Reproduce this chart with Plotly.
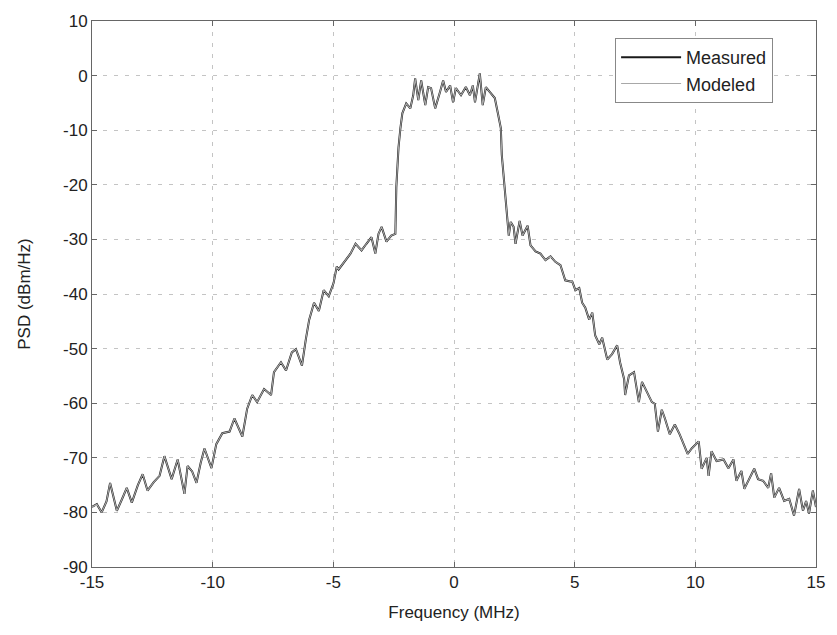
import plotly.graph_objects as go

freq_mhz = [
    -15.0, -14.8, -14.6, -14.4, -14.25, -13.97, -13.75, -13.56, -13.35, -13.1,
    -12.9, -12.7, -12.45, -12.2, -12.0, -11.85, -11.7, -11.45, -11.17, -11.04,
    -10.85, -10.67, -10.5, -10.34, -10.05, -9.85, -9.6, -9.3, -9.1, -8.77,
    -8.57, -8.36, -8.16, -7.87, -7.58, -7.46, -7.17, -6.96, -6.72, -6.55,
    -6.3, -6.14, -6.0, -5.8, -5.6, -5.4, -5.19, -4.99, -4.86, -4.78,
    -4.49, -4.29, -4.08, -3.83, -3.63, -3.42, -3.26, -3.13, -3.0, -2.8,
    -2.6, -2.43, -2.39, -2.3, -2.22, -2.14, -1.98, -1.81, -1.69, -1.61,
    -1.48, -1.36, -1.19, -1.07, -0.95, -0.78, -0.58, -0.45, -0.33, -0.16,
    -0.04, 0.08, 0.29, 0.49, 0.66, 0.78, 0.87, 1.07, 1.19, 1.32,
    1.48, 1.69, 1.81, 1.94, 1.98, 2.1, 2.18, 2.27, 2.35, 2.47,
    2.55, 2.72, 2.84, 3.05, 3.17, 3.38, 3.58, 3.79, 4.0, 4.2,
    4.41, 4.61, 4.82, 4.9, 5.03, 5.19, 5.31, 5.44, 5.6, 5.73,
    5.85, 6.02, 6.14, 6.35, 6.55, 6.76, 6.88, 7.05, 7.09, 7.25,
    7.46, 7.66, 7.79, 7.99, 8.2, 8.32, 8.45, 8.61, 8.74, 8.94,
    9.15, 9.35, 9.52, 9.68, 9.85, 10.14, 10.26, 10.47, 10.55, 10.67,
    10.88, 11.17, 11.37, 11.58, 11.7, 11.91, 12.03, 12.24, 12.44, 12.6,
    12.81, 13.02, 13.14, 13.27, 13.47, 13.68, 13.89, 14.09, 14.3, 14.46,
    14.59, 14.71, 14.87, 15.0,
]

psd_measured = [
    -79.0, -78.5, -80.0, -78.0, -74.6, -79.7, -77.5, -75.5, -78.2, -75.0,
    -73.0, -76.0, -74.5, -73.3, -69.7, -72.0, -73.9, -70.3, -76.6, -71.5,
    -72.5, -74.6, -71.0, -68.3, -71.9, -67.5, -65.5, -65.2, -62.8, -66.1,
    -61.0, -58.5, -59.8, -57.4, -58.5, -54.3, -52.5, -54.0, -50.7, -50.1,
    -53.1, -48.3, -44.7, -41.6, -43.1, -39.3, -40.4, -38.0, -35.0, -35.5,
    -33.8, -32.6, -30.8, -32.0, -30.8, -29.6, -32.6, -29.0, -27.7, -30.4,
    -29.3, -29.0, -20.4, -13.2, -9.6, -6.9, -5.1, -6.0, -3.6, -0.5,
    -4.5, -0.9, -5.4, -2.1, -2.3, -6.0, -3.0, -0.9, -3.0, -1.8,
    -4.9, -2.3, -3.6, -2.1, -3.6, -1.8, -4.9, 0.4, -5.4, -2.1,
    -3.0, -4.1, -6.7, -9.6, -14.5, -20.4, -25.3, -29.3, -26.8, -27.7,
    -30.8, -26.6, -29.3, -27.5, -31.1, -32.2, -32.6, -33.8, -33.1, -34.1,
    -34.7, -37.5, -37.7, -37.7, -39.3, -38.9, -41.6, -42.5, -44.7, -43.4,
    -47.6, -49.2, -48.0, -52.0, -51.0, -49.4, -52.5, -55.6, -58.5, -54.9,
    -54.3, -59.8, -56.1, -57.9, -59.8, -60.1, -65.2, -61.2, -62.8, -65.7,
    -63.9, -65.7, -67.4, -69.3, -68.3, -67.0, -72.0, -70.0, -73.3, -68.8,
    -70.6, -70.3, -71.9, -70.3, -74.2, -72.4, -75.7, -73.7, -72.0, -73.9,
    -74.2, -75.5, -72.8, -77.3, -75.5, -77.9, -77.5, -80.6, -75.7, -79.7,
    -77.9, -80.2, -76.0, -79.0,
]

psd_modeled = [
    -79.0, -78.5, -80.0, -78.0, -74.6, -79.7, -77.5, -75.5, -78.2, -75.0,
    -73.0, -76.0, -74.5, -73.3, -69.7, -72.0, -73.9, -70.3, -76.6, -71.5,
    -72.5, -74.6, -71.0, -68.3, -71.9, -67.5, -65.5, -65.2, -62.8, -66.1,
    -61.0, -58.5, -59.8, -57.4, -58.5, -54.3, -52.5, -54.0, -50.7, -50.1,
    -53.1, -48.3, -44.7, -41.6, -43.1, -39.3, -40.4, -38.0, -35.0, -35.5,
    -33.8, -32.6, -30.8, -32.0, -30.8, -29.6, -32.6, -29.0, -27.7, -30.4,
    -29.3, -29.0, -20.4, -13.2, -9.6, -6.9, -5.1, -6.0, -3.6, -0.5,
    -4.5, -0.9, -5.4, -2.1, -2.3, -6.0, -3.0, -0.9, -3.0, -1.8,
    -4.9, -2.3, -3.6, -2.1, -3.6, -1.8, -4.9, 0.4, -5.4, -2.1,
    -3.0, -4.1, -6.7, -9.6, -14.5, -20.4, -25.3, -29.3, -26.8, -27.7,
    -30.8, -26.6, -29.3, -27.5, -31.1, -32.2, -32.6, -33.8, -33.1, -34.1,
    -34.7, -37.5, -37.7, -37.7, -39.3, -38.9, -41.6, -42.5, -44.7, -43.4,
    -47.6, -49.2, -48.0, -52.0, -51.0, -49.4, -52.5, -55.6, -58.5, -54.9,
    -54.3, -59.8, -56.1, -57.9, -59.8, -60.1, -65.2, -61.2, -62.8, -65.7,
    -63.9, -65.7, -67.4, -69.3, -68.3, -67.0, -72.0, -70.0, -73.3, -68.8,
    -70.6, -70.3, -71.9, -70.3, -74.2, -72.4, -75.7, -73.7, -72.0, -73.9,
    -74.2, -75.5, -72.8, -77.3, -75.5, -77.9, -77.5, -80.6, -75.7, -79.7,
    -77.9, -80.2, -76.0, -79.0,
]

x_ticks = [-15, -10, -5, 0, 5, 10, 15]
x_tick_text = ["-15", "-10", "-5", "0", "5", "10", "15"]
y_ticks = [10, 0, -10, -20, -30, -40, -50, -60, -70, -80, -90]
y_tick_text = ["10", "0", "-10", "-20", "-30", "-40", "-50", "-60", "-70", "-80", "-90"]

font_family = "Liberation Sans, Arial, sans-serif"

fig = go.Figure()
fig.add_trace(go.Scatter(
    x=freq_mhz, y=psd_measured, mode="lines", name="Measured",
    line=dict(color="#1a1a1a", width=2.0),
))
fig.add_trace(go.Scatter(
    x=freq_mhz, y=psd_modeled, mode="lines", name="Modeled",
    line=dict(color="#a8a8a8", width=1.1),
))

axis_common = dict(
    showline=True, linecolor="#666666", linewidth=1, mirror="ticks",
    ticks="inside", ticklen=5, tickcolor="#666666",
    showgrid=True, gridcolor="#c4c4c4", griddash="4px,7px", gridwidth=1,
    zeroline=False,
    tickfont=dict(family=font_family, size=17, color="#222222"),
    title_font=dict(family=font_family, size=17, color="#222222"),
)

fig.update_layout(
    width=837, height=635,
    margin=dict(l=92, r=17, t=15, b=68),
    paper_bgcolor="white", plot_bgcolor="white",
    showlegend=True,
    legend=dict(
        x=0.7225, y=0.969, xanchor="left", yanchor="top",
        bgcolor="white", bordercolor="#888888", borderwidth=1,
        font=dict(family=font_family, size=18, color="#222222"),
        itemwidth=60,
    ),
    xaxis=dict(
        range=[-15, 15], tickvals=x_ticks, ticktext=x_tick_text,
        title=dict(text="Frequency (MHz)", standoff=14),
        **axis_common,
    ),
    yaxis=dict(
        range=[-90, 10], tickvals=y_ticks, ticktext=y_tick_text,
        title=dict(text="PSD (dBm/Hz)", standoff=28),
        **axis_common,
    ),
)

fig.write_html("out.html")
